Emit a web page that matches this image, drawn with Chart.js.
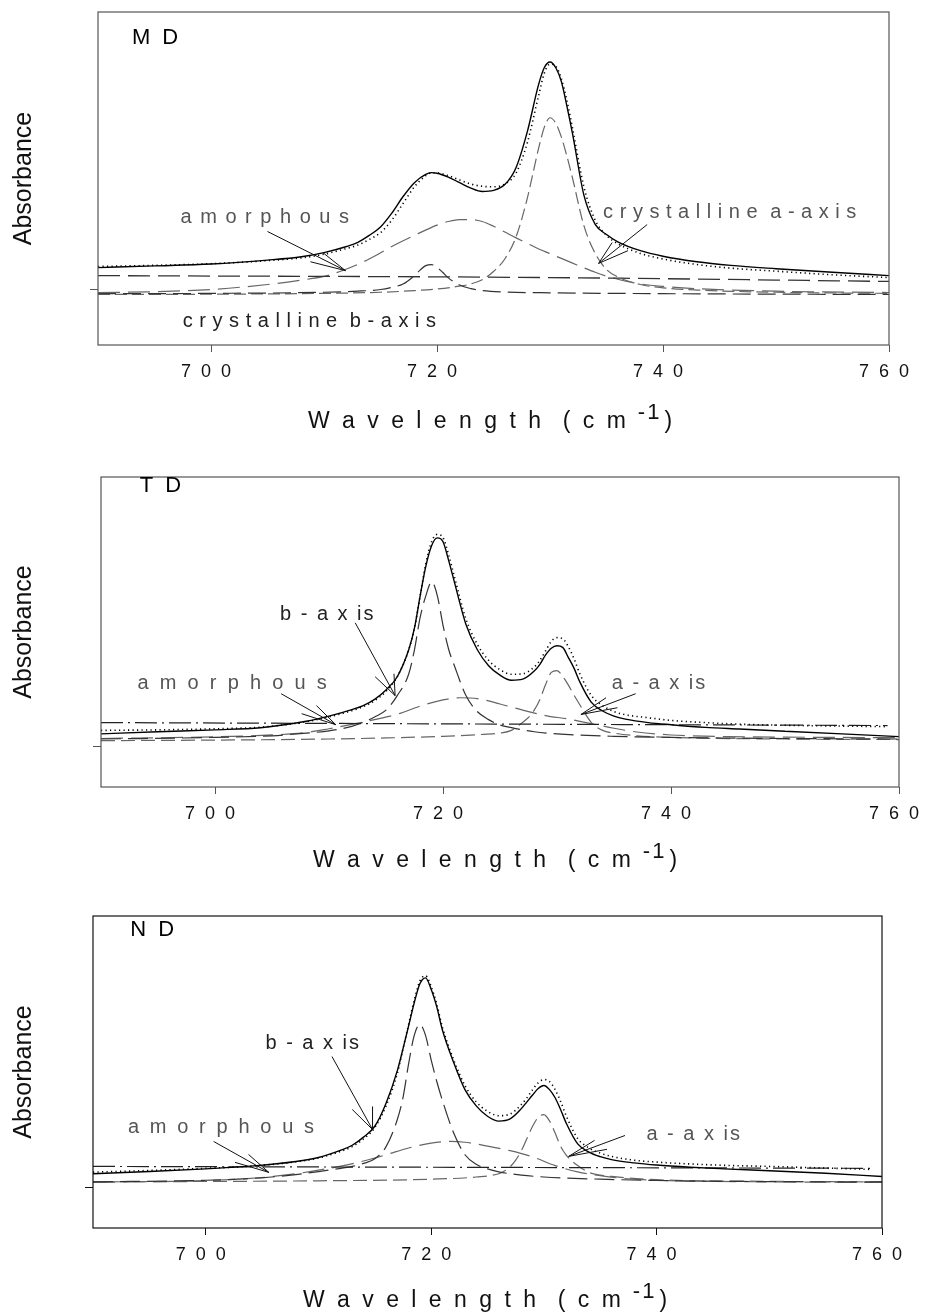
<!DOCTYPE html>
<html>
<head>
<meta charset="utf-8">
<script src="https://cdn.jsdelivr.net/npm/chart.js@4.4.1/dist/chart.umd.min.js"></script>
<style>
  body { margin: 0; background: #fff; width: 925px; height: 1314px; position: relative; overflow: hidden; }
  canvas { position: absolute; left: 0; }
</style>
</head>
<body>
<canvas id="md" width="925" height="445" style="top:0"></canvas>
<canvas id="td" width="925" height="435" style="top:445px"></canvas>
<canvas id="nd" width="925" height="434" style="top:880px"></canvas>
<script>
const FONT = '"Liberation Sans", Arial, sans-serif';
const xTicks = [700, 720, 740, 760];

// ---- MD panel: [wavenumber, absorbance]
const mdTotal = [[690,0.079],[695,0.085],[700,0.092],[705,0.106],[708,0.118],[710,0.133],[712,0.155],[713,0.17],[714,0.195],[715,0.225],[716,0.275],[717,0.335],[718,0.385],[719,0.415],[719.5,0.421],[720,0.419],[721,0.405],[722,0.385],[723,0.365],[724,0.353],[725,0.357],[726,0.378],[727,0.44],[728,0.57],[729,0.74],[729.5,0.8],[730,0.82],[730.5,0.8],[731,0.75],[731.5,0.66],[732,0.56],[733,0.34],[734,0.235],[735,0.198],[736,0.172],[738,0.14],[740,0.12],[743,0.1],[746,0.087],[750,0.075],[755,0.062],[760,0.05]];
const mdData = [[690,0.083],[695,0.087],[700,0.093],[705,0.104],[708,0.114],[710,0.127],[712,0.148],[713,0.16],[714,0.18],[715,0.205],[716,0.25],[717,0.31],[718,0.37],[719,0.41],[719.5,0.42],[720,0.42],[721,0.41],[722,0.395],[723,0.38],[724,0.372],[725,0.37],[726,0.38],[727,0.42],[728,0.53],[729,0.7],[729.5,0.78],[730,0.812],[730.5,0.805],[731,0.76],[731.5,0.68],[732,0.58],[733,0.37],[734,0.25],[735,0.195],[736,0.165],[738,0.13],[740,0.11],[743,0.09],[746,0.077],[750,0.066],[755,0.053],[760,0.043]];
const mdBase = [[690,0.05],[730,0.043],[760,0.029]];
const mdAmorph = [[690,-0.011],[695,-0.008],[700,0.0],[705,0.018],[708,0.034],[710,0.047],[712,0.074],[714,0.11],[716,0.155],[718,0.195],[720,0.232],[721,0.245],[722,0.252],[723,0.252],[724,0.245],[725,0.228],[726,0.207],[727,0.186],[728,0.166],[729,0.146],[730,0.129],[731,0.112],[732,0.095],[733,0.078],[734,0.062],[735,0.048],[736,0.037],[738,0.02],[740,0.011],[743,0.003],[750,-0.006],[760,-0.011]];
const mdB = [[690,-0.015],[700,-0.014],[710,-0.01],[713,-0.006],[715,0.0],[716,0.008],[717,0.02],[718,0.05],[718.5,0.07],[719,0.086],[719.5,0.09],[720,0.08],[720.5,0.062],[721,0.042],[722,0.016],[723,0.003],[724,-0.004],[726,-0.009],[730,-0.012],[740,-0.015],[760,-0.018]];
const mdA = [[690,-0.018],[700,-0.017],[710,-0.014],[715,-0.01],[718,-0.004],[720,0.002],[722,0.012],[723,0.02],[724,0.035],[725,0.065],[726,0.11],[727,0.19],[728,0.33],[728.5,0.42],[729,0.51],[729.5,0.585],[730,0.619],[730.5,0.6],[731,0.55],[731.5,0.48],[732,0.4],[733,0.23],[734,0.13],[735,0.072],[736,0.045],[738,0.018],[740,0.006],[743,-0.002],[750,-0.01],[760,-0.014]];

// ---- TD panel
const tdTotal = [[690,0.047],[695,0.055],[700,0.062],[704,0.07],[708,0.094],[710,0.113],[712,0.137],[713,0.152],[714,0.175],[715,0.21],[716,0.26],[717,0.36],[717.5,0.44],[718,0.56],[718.5,0.67],[719,0.745],[719.5,0.774],[720,0.76],[720.5,0.69],[721,0.61],[722,0.455],[723,0.36],[724,0.3],[725,0.265],[726,0.246],[727,0.25],[728,0.28],[728.5,0.305],[729,0.34],[729.5,0.365],[730,0.374],[730.5,0.368],[731,0.33],[731.5,0.29],[732,0.24],[733,0.165],[734,0.132],[735,0.113],[736,0.102],[738,0.089],[740,0.081],[743,0.071],[746,0.065],[750,0.057],[755,0.047],[760,0.037]];
const tdData = [[690,0.06],[695,0.062],[700,0.066],[704,0.072],[708,0.092],[710,0.11],[712,0.133],[713,0.148],[714,0.17],[715,0.205],[716,0.26],[717,0.36],[717.5,0.44],[718,0.56],[718.5,0.68],[719,0.76],[719.5,0.787],[720,0.775],[720.5,0.71],[721,0.63],[722,0.475],[723,0.38],[724,0.32],[725,0.285],[726,0.268],[727,0.27],[728,0.295],[728.5,0.32],[729,0.355],[729.5,0.39],[730,0.404],[730.5,0.4],[731,0.37],[731.5,0.325],[732,0.27],[733,0.19],[734,0.152],[735,0.13],[736,0.118],[738,0.107],[740,0.097],[743,0.089],[746,0.083],[750,0.079],[755,0.076],[759,0.074]];
const tdDashDot = [[690,0.089],[759,0.078]];
const tdB = [[690,0.028],[700,0.034],[705,0.04],[708,0.05],[710,0.058],[712,0.075],[713,0.09],[714,0.11],[715,0.135],[716,0.19],[717,0.27],[717.5,0.36],[718,0.48],[718.5,0.56],[719,0.611],[719.5,0.56],[720,0.45],[720.5,0.36],[721,0.3],[722,0.19],[723,0.13],[724,0.1],[725,0.08],[726,0.07],[728,0.055],[730,0.047],[735,0.038],[740,0.034],[750,0.03],[760,0.028]];
const tdAmorph = [[690,0.03],[700,0.036],[705,0.043],[708,0.052],[710,0.066],[712,0.082],[714,0.1],[716,0.12],[718,0.15],[720,0.173],[721.5,0.181],[723,0.178],[725,0.158],[727,0.135],[729,0.115],[731,0.102],[733,0.085],[735,0.068],[737,0.054],[740,0.043],[745,0.037],[750,0.035],[760,0.033]];
const tdA = [[690,0.022],[700,0.024],[710,0.028],[715,0.032],[720,0.038],[723,0.044],[725,0.05],[726,0.06],[727,0.09],[727.5,0.108],[728,0.135],[728.5,0.175],[729,0.23],[729.5,0.275],[730,0.282],[730.5,0.26],[731,0.228],[731.5,0.19],[732,0.155],[733,0.09],[734,0.06],[735,0.05],[737,0.04],[740,0.034],[750,0.028],[760,0.026]];

// ---- ND panel
const ndTotal = [[690,0.05],[695,0.058],[700,0.068],[704,0.078],[708,0.095],[710,0.11],[712,0.137],[713,0.155],[714,0.185],[715,0.225],[716,0.31],[717,0.43],[717.5,0.51],[718,0.595],[718.5,0.68],[719,0.75],[719.5,0.772],[720,0.73],[720.5,0.665],[721,0.58],[722,0.46],[723,0.36],[724,0.3],[725,0.262],[726,0.244],[727,0.252],[728,0.29],[728.5,0.315],[729,0.34],[729.5,0.364],[730,0.375],[730.5,0.36],[731,0.33],[731.5,0.285],[732,0.235],[733,0.16],[734,0.13],[735,0.113],[736,0.102],[738,0.09],[740,0.082],[743,0.074],[746,0.068],[750,0.061],[755,0.052],[760,0.04]];
const ndData = [[690,0.056],[695,0.062],[700,0.07],[704,0.078],[708,0.094],[710,0.108],[712,0.133],[713,0.15],[714,0.178],[715,0.22],[716,0.3],[717,0.42],[717.5,0.51],[718,0.6],[718.5,0.69],[719,0.76],[719.5,0.78],[720,0.74],[720.5,0.675],[721,0.59],[722,0.47],[723,0.375],[724,0.315],[725,0.28],[726,0.264],[727,0.27],[728,0.305],[728.5,0.33],[729,0.36],[729.5,0.385],[730,0.397],[730.5,0.39],[731,0.36],[731.5,0.315],[732,0.262],[733,0.18],[734,0.145],[735,0.126],[736,0.114],[738,0.1],[740,0.093],[743,0.086],[746,0.081],[750,0.077],[755,0.071],[759,0.066]];
const ndDashDot = [[690,0.077],[759,0.07]];
const ndB = [[690,0.02],[700,0.026],[705,0.035],[708,0.047],[710,0.058],[712,0.07],[713,0.077],[714,0.088],[715,0.105],[716,0.15],[717,0.25],[717.5,0.33],[718,0.455],[718.5,0.56],[719,0.6],[719.5,0.56],[720,0.47],[720.5,0.39],[721,0.32],[722,0.2],[723,0.12],[724,0.085],[725,0.068],[726,0.057],[728,0.045],[730,0.038],[735,0.03],[740,0.025],[750,0.021],[760,0.02]];
const ndAmorph = [[690,0.018],[700,0.025],[704,0.033],[706,0.04],[708,0.05],[710,0.063],[712,0.078],[714,0.097],[716,0.12],[718,0.145],[720,0.163],[721.7,0.169],[723,0.166],[725,0.152],[727,0.135],[729,0.112],[731,0.08],[733,0.057],[735,0.043],[737,0.033],[740,0.026],[750,0.02],[760,0.018]];
const ndA = [[690,0.02],[710,0.024],[720,0.03],[724,0.038],[726,0.05],[726.5,0.06],[727,0.075],[727.5,0.1],[728,0.135],[728.5,0.18],[729,0.225],[729.5,0.258],[730,0.268],[730.5,0.245],[731,0.2],[731.5,0.15],[732,0.118],[733,0.08],[734,0.055],[735,0.045],[736,0.04],[740,0.028],[750,0.022],[760,0.02]];

function line(data, color, width, dash) {
  return { data, borderColor: color, borderWidth: width, borderDash: dash || [],
           pointRadius: 0, fill: false, cubicInterpolationMode: 'monotone' };
}
const solid = d => line(d, '#000', 1.4);
const dotted = d => line(d, '#000', 1.6, [1.2, 3.3]);

function setSpacing(ctx, px) {
  if ('letterSpacing' in ctx) ctx.letterSpacing = px + 'px';
}

function decor(p) {
  return {
    id: 'decor',
    afterDatasetsDraw(chart) { setSpacing(chart.ctx, 10); },   // x tick labels come next (ticks.z = 1)
    afterDraw(chart) {
      const ctx = chart.ctx, a = chart.chartArea;
      const X = v => chart.scales.x.getPixelForValue(v);
      const Y = v => chart.scales.y.getPixelForValue(v);
      ctx.save();
      setSpacing(ctx, 0);
      ctx.strokeStyle = p.frame;
      ctx.lineWidth = 1.2;
      ctx.strokeRect(a.left, a.top, a.right - a.left, a.bottom - a.top);

      // arrows: tail, tip, two barbs
      ctx.strokeStyle = '#111';
      ctx.lineWidth = 1;
      p.arrows.forEach(([t, h, b1, b2]) => {
        ctx.beginPath();
        ctx.moveTo(X(t[0]), Y(t[1])); ctx.lineTo(X(h[0]), Y(h[1]));
        ctx.moveTo(X(b1[0]), Y(b1[1])); ctx.lineTo(X(h[0]), Y(h[1])); ctx.lineTo(X(b2[0]), Y(b2[1]));
        ctx.stroke();
      });

      ctx.textBaseline = 'alphabetic';
      ctx.textAlign = 'left';
      p.labels.forEach(l => {
        ctx.font = (l.size || 20) + 'px ' + FONT;
        ctx.fillStyle = l.color;
        setSpacing(ctx, l.ls || 0);
        ctx.fillText(l.text, X(l.x), Y(l.y));
      });

      // x axis title with superscript
      const tx = p.titleX, ty = a.bottom + p.titleDy;
      ctx.fillStyle = '#111';
      ctx.font = '23px ' + FONT;
      setSpacing(ctx, 3);
      const main = 'W a v e l e n g t h  ( c m';
      ctx.fillText(main, tx, ty);
      const w1 = ctx.measureText(main).width;
      ctx.font = '22px ' + FONT;
      setSpacing(ctx, 2);
      ctx.fillText('-1', tx + w1 + 9, ty - 9);
      const w2 = ctx.measureText('-1').width;
      ctx.font = '23px ' + FONT;
      setSpacing(ctx, 0);
      ctx.fillText(')', tx + w1 + w2 + 12, ty);
      ctx.restore();
      setSpacing(ctx, 0);
    }
  };
}

function makePanel(id, p) {
  new Chart(document.getElementById(id), {
    type: 'line',
    data: { datasets: p.datasets },
    options: {
      responsive: false,
      animation: false,
      devicePixelRatio: 1,
      layout: { padding: { top: p.top, right: p.right, left: 0, bottom: 0 } },
      plugins: { legend: { display: false }, tooltip: { enabled: false } },
      scales: {
        x: {
          type: 'linear', min: 690, max: 760,
          afterBuildTicks: s => { s.ticks = xTicks.map(v => ({ value: v })); },
          afterFit: s => { s.height = p.xh; },
          border: { display: false },
          grid: { drawOnChartArea: false, drawTicks: true, tickLength: 7, color: p.frame },
          ticks: { z: 1, padding: 9, color: '#111', maxRotation: 0, autoSkip: false,
                   font: { family: FONT, size: 18 } }
        },
        y: {
          type: 'linear', min: p.yMin, max: 1,
          afterBuildTicks: s => { s.ticks = [{ value: 0 }]; },
          afterFit: s => { s.width = p.left; },
          border: { display: false },
          grid: { drawOnChartArea: false, drawTicks: true, tickLength: 8, color: p.frame },
          ticks: { callback: () => '' },
          title: { display: true, text: 'Absorbance', color: '#111',
                   font: { family: FONT, size: 25 }, padding: { top: 9, bottom: 0 } }
        }
      }
    },
    plugins: [decor(p)]
  });
}

const grey = '#666', dark = '#333';

makePanel('md', {
  top: 12, right: 36, left: 98, xh: 100, yMin: -0.2, frame: '#555', titleX: 308, titleDy: 83,
  datasets: [
    solid(mdTotal), dotted(mdData),
    line(mdBase, dark, 1.3, [22, 8]),
    line(mdAmorph, grey, 1.2, [22, 8]),
    line(mdB, dark, 1.2, [18, 7]),
    line(mdA, grey, 1.2, [12, 5])
  ],
  labels: [
    { text: 'M D', x: 693.0, y: 0.885, color: '#000', size: 22, ls: 3 },
    { text: 'a m o r p h o u s', x: 697.3, y: 0.24, color: '#555', ls: 1.5 },
    { text: 'c r y s t a l l i n e  a - a x i s', x: 734.7, y: 0.258, color: '#555', ls: 0.5 },
    { text: 'c r y s t a l l i n e  b - a x i s', x: 697.5, y: -0.135, color: '#222', ls: 0.5 }
  ],
  arrows: [
    [[705.0, 0.209], [711.9, 0.068], [709.9, 0.133], [708.8, 0.10]],
    [[738.6, 0.234], [734.3, 0.094], [735.5, 0.169], [736.9, 0.14]]
  ]
});

makePanel('td', {
  top: 32, right: 26, left: 101, xh: 93, yMin: -0.15, frame: '#555', titleX: 313, titleDy: 80,
  datasets: [
    solid(tdTotal), dotted(tdData),
    line(tdDashDot, '#222', 1.2, [22, 5, 2, 5]),
    line(tdB, dark, 1.2, [20, 7]),
    line(tdAmorph, grey, 1.2, [22, 8]),
    line(tdA, grey, 1.2, [14, 6])
  ],
  labels: [
    { text: 'T D', x: 693.4, y: 0.945, color: '#000', size: 22, ls: 3 },
    { text: 'b - a x is', x: 705.7, y: 0.47, color: '#222', ls: 2 },
    { text: 'a m o r p h o u s', x: 693.2, y: 0.214, color: '#555', ls: 2.8 },
    { text: 'a - a x is', x: 734.8, y: 0.214, color: '#555', ls: 2 }
  ],
  arrows: [
    [[712.3, 0.459], [715.8, 0.189], [714.05, 0.259], [715.7, 0.27]],
    [[705.8, 0.196], [710.6, 0.081], [707.6, 0.122], [708.9, 0.152]],
    [[736.9, 0.196], [732.1, 0.119], [734.3, 0.181], [735.3, 0.144]]
  ]
});

makePanel('nd', {
  top: 36, right: 43, left: 93, xh: 86, yMin: -0.15, frame: '#111', titleX: 303, titleDy: 79,
  datasets: [
    solid(ndTotal), dotted(ndData),
    line(ndDashDot, '#222', 1.2, [22, 5, 2, 5]),
    line(ndB, dark, 1.2, [20, 7]),
    line(ndAmorph, grey, 1.2, [22, 8]),
    line(ndA, grey, 1.2, [14, 6])
  ],
  labels: [
    { text: 'N D', x: 693.3, y: 0.926, color: '#000', size: 22, ls: 3 },
    { text: 'b - a x is', x: 705.3, y: 0.51, color: '#222', ls: 2 },
    { text: 'a m o r p h o u s', x: 693.1, y: 0.2, color: '#555', ls: 2.6 },
    { text: 'a - a x is', x: 739.1, y: 0.174, color: '#555', ls: 2 }
  ],
  arrows: [
    [[711.2, 0.482], [714.8, 0.213], [713.0, 0.287], [714.8, 0.298]],
    [[700.7, 0.169], [705.6, 0.055], [702.6, 0.092], [703.8, 0.121]],
    [[737.2, 0.191], [732.2, 0.114], [734.5, 0.173], [735.6, 0.14]]
  ]
});
</script>
</body>
</html>
